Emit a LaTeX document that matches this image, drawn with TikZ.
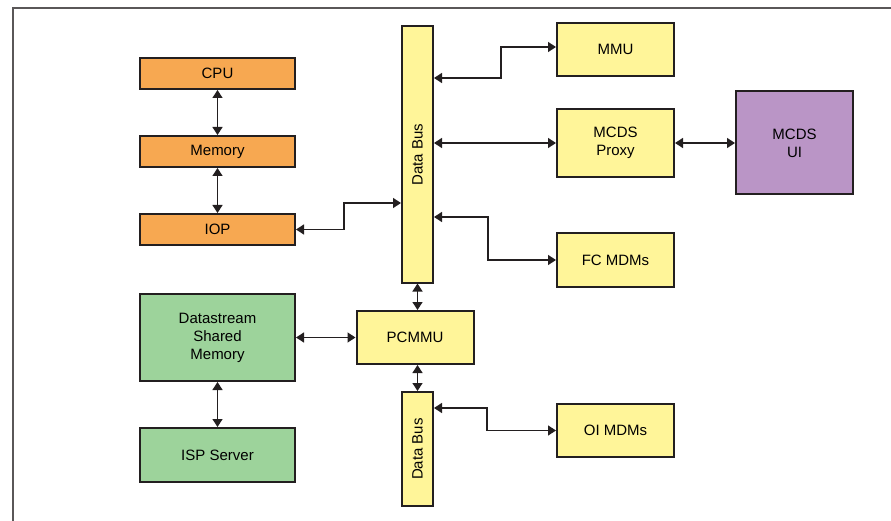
\documentclass[tikz,border=0pt]{standalone}
\usepackage{fontspec}
\setmainfont{Liberation Sans}
\usetikzlibrary{arrows.meta,positioning}
\definecolor{hostorange}{HTML}{F7A851}
\definecolor{busyellow}{HTML}{FFF599}
\definecolor{dsgreen}{HTML}{9DD39B}
\definecolor{uipurple}{HTML}{BA95C6}
\definecolor{edgegray}{HTML}{231F20}
\tikzset{
    block/.style={draw=edgegray,line width=2pt,inner sep=2pt,align=center,
        font=\fontsize{15}{18}\selectfont},
    hostbox/.style={block,fill=hostorange,minimum width=155pt,minimum height=31pt},
    dsbox/.style={block,fill=dsgreen,minimum width=155pt},
    unitbox/.style={block,fill=busyellow,minimum width=117pt},
    busbox/.style={block,fill=busyellow,minimum width=31pt,
        label={[rotate=90,font=\fontsize{15}{18}\selectfont]center:Data Bus}},
    link/.style={draw=edgegray,line width=1.3pt,
        {Triangle[length=8pt,width=10pt]}-{Triangle[length=8pt,width=10pt]}},
}
\begin{document}
\begin{tikzpicture}[x=1pt,y=-1pt]
    \useasboundingbox (0,0) rectangle (891,521);
    \draw[edgegray!75,line width=1.2pt] (13,521) -- (13,8) -- (891,8);

    \node[hostbox] (cpu) at (217.5,73.5) {CPU};
    \node[hostbox] (mem) [below=45pt of cpu] {Memory};
    \node[hostbox] (iop) [below=45pt of mem] {IOP};
    \node[dsbox,minimum height=87pt] (dsm) [below=47pt of iop] {Datastream\\Shared\\Memory};
    \node[dsbox,minimum height=54pt] (isp) [below=45pt of dsm] {ISP Server};

    \node[busbox,minimum height=256pt] (bus1) at (417.5,154.5) {};
    \node[unitbox,minimum height=53pt] (pcmmu) at (415,337.5) {PCMMU};
    \node[busbox,minimum height=114pt] (bus2) at (417.5,449) {};

    \node[unitbox,minimum height=53pt] (mmu) at (615.5,49.5) {MMU};
    \node[unitbox,minimum height=68pt] (proxy) [below=31pt of mmu] {MCDS\\Proxy};
    \node[block,fill=uipurple,minimum width=117pt,minimum height=103pt] (ui) [right=60pt of proxy] {MCDS\\UI};
    \node[unitbox,minimum height=54pt] (fc) [below=54pt of proxy] {FC MDMs};
    \node[unitbox,minimum height=53pt] (oi) [below=115pt of fc] {OI MDMs};

    \draw[link] (cpu) -- (mem);
    \draw[link] (mem) -- (iop);
    \draw[link] (dsm) -- (isp);
    \draw[link] (iop.east) -- (344,229.5) |- (bus1.west |- 0,203);
    \draw[link] (bus1.east |- 0,78) -- (501,78) |- (mmu.west |- 0,47);
    \draw[link] (bus1.east |- proxy) -- (proxy.west);
    \draw[link] (proxy) -- (ui.west |- proxy);
    \draw[link] (bus1.east |- 0,217) -- (488,217) |- (fc.west);
    \draw[link] (bus1.south) -- (bus1.south |- pcmmu.north);
    \draw[link] (dsm.east |- pcmmu) -- (pcmmu.west);
    \draw[link] (bus2.north |- pcmmu.south) -- (bus2.north);
    \draw[link] (bus2.east |- 0,408) -- (487,408) |- (oi.west);
\end{tikzpicture}
\end{document}
